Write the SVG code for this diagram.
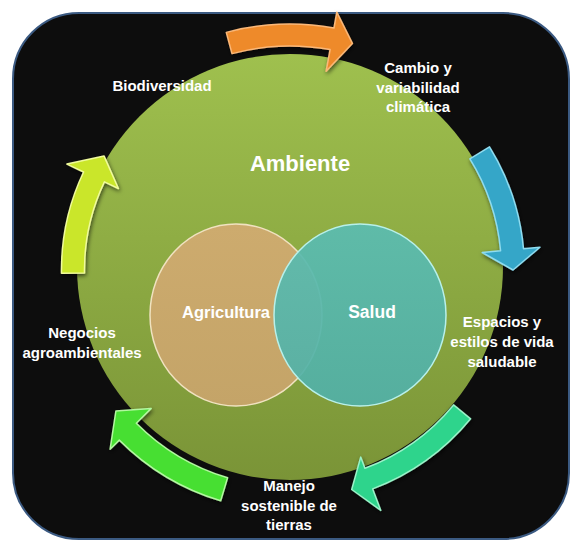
<svg xmlns="http://www.w3.org/2000/svg" width="572" height="542" viewBox="0 0 572 542">
<defs>
  <linearGradient id="gAmb" x1="0" y1="0" x2="0" y2="1">
    <stop offset="0" stop-color="#9fc04e"/>
    <stop offset="1" stop-color="#7a9437"/>
  </linearGradient>
  <linearGradient id="gAgr" x1="0" y1="0" x2="0" y2="1">
    <stop offset="0" stop-color="#cdab6e"/>
    <stop offset="1" stop-color="#c4a468"/>
  </linearGradient>
  <linearGradient id="gSal" x1="0" y1="0" x2="0" y2="1">
    <stop offset="0" stop-color="#5bbcb0"/>
    <stop offset="1" stop-color="#52b0a6"/>
  </linearGradient>
  <filter id="sh" x="-20%" y="-20%" width="140%" height="140%">
    <feDropShadow dx="1" dy="2" stdDeviation="2" flood-color="#000" flood-opacity="0.6"/>
  </filter>
</defs>
<style>
  .lbl { font-family: "Liberation Sans", Arial, sans-serif; font-weight: bold; font-size: 15px; fill: #ffffff; text-anchor: middle; }
  .big { font-size: 22px; }
  .mid { font-size: 16.5px; }
  .arrow { stroke-width: 1.5; stroke-linejoin: round; filter: url(#sh); }
</style>

<g id="background">
  <rect x="13" y="13" width="556" height="526" rx="66" ry="66" fill="#0d0d0d" stroke="#3b5a82" stroke-width="2"/>
</g>

<g id="ambiente">
  <circle cx="290" cy="267" r="213" fill="url(#gAmb)"/>
  <text class="lbl big" x="300" y="171">Ambiente</text>
</g>

<g id="agricultura">
  <ellipse cx="236" cy="315" rx="86" ry="91" fill="url(#gAgr)" stroke="#f0e2c0" stroke-width="1.5"/>
  <text class="lbl mid" x="226" y="318">Agricultura</text>
</g>

<g id="salud">
  <ellipse cx="360" cy="315" rx="86" ry="91" fill="url(#gSal)" fill-opacity="0.93" stroke="#b8f0ea" stroke-width="1.5"/>
  <text class="lbl" style="font-size:17.5px" x="372" y="318">Salud</text>
</g>

<g id="connectors">
  <path class="arrow" fill="#ee8a2c" stroke="#fbb878" d="M226.3,32.4 A246,246 0 0 1 334.0,28.0 L336.8,12.2 L352.4,43.4 L326.1,71.3 L330.1,49.6 A224,224 0 0 0 232.0,53.6 Z"/>
  <path class="arrow" fill="#36a6c8" stroke="#8fdcf0" d="M489.5,146.8 A234.5,234.5 0 0 1 523.5,248.8 L540.0,247.3 L513,270 L482.2,252.5 L500.6,250.8 A211.5,211.5 0 0 0 469.9,158.9 Z"/>
  <path class="arrow" fill="#2fd48c" stroke="#9af2c8" d="M470.6,418.8 A234,234 0 0 1 372.7,488.9 L380.8,510.4 L351.7,489.5 L360.7,457.1 L364.9,468.3 A212,212 0 0 0 453.6,404.9 Z"/>
  <path class="arrow" fill="#46df30" stroke="#b2f7a0" d="M220.7,500.8 A241,241 0 0 1 119.3,440.1 L110.1,449.3 L115.9,411.0 L151.2,408.4 L136.3,423.2 A217,217 0 0 0 227.6,477.8 Z"/>
  <path class="arrow" fill="#cae62a" stroke="#f0fb9c" d="M61.5,273.2 A228.5,228.5 0 0 1 83.6,172.0 L66.9,164.1 L104.1,156.1 L118.4,188.5 L104.4,181.9 A205.5,205.5 0 0 0 84.5,272.9 Z"/>
</g>

<g id="biodiversidad">
  <text class="lbl" x="162" y="91">Biodiversidad</text>
</g>
<g id="cambio">
  <text class="lbl" x="418" y="73">Cambio y</text>
  <text class="lbl" x="418" y="93">variabilidad</text>
  <text class="lbl" x="418" y="112">climática</text>
</g>
<g id="espacios">
  <text class="lbl" x="502" y="327">Espacios y</text>
  <text class="lbl" x="502" y="347">estilos de vida</text>
  <text class="lbl" x="502" y="367">saludable</text>
</g>
<g id="manejo">
  <text class="lbl" x="289" y="491">Manejo</text>
  <text class="lbl" x="289" y="511">sostenible de</text>
  <text class="lbl" x="289" y="530">tierras</text>
</g>
<g id="negocios">
  <text class="lbl" x="82" y="338">Negocios</text>
  <text class="lbl" x="82" y="358">agroambientales</text>
</g>
</svg>
